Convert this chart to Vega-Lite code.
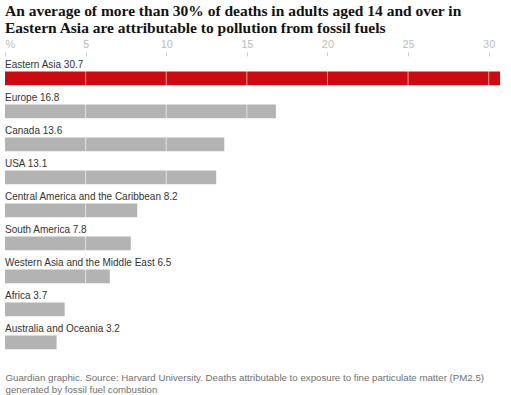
{
  "$schema": "https://vega.github.io/schema/vega-lite/v6.json",
  "width": 495,
  "height": {"step": 33},
  "padding": {"left": 4, "top": 4, "right": 12, "bottom": 0},
  "background": "white",
  "title": {
    "text": ["An average of more than 30% of deaths in adults aged 14 and over in", "Eastern Asia are attributable to pollution from fossil fuels"],
    "anchor": "start",
    "frame": "group",
    "font": "Liberation Serif",
    "fontSize": 15.5,
    "fontWeight": "bold",
    "color": "#121212",
    "lineHeight": 17,
    "offset": 2
  },
  "datasets": {
    "regions": [
      {"region": "Eastern Asia", "value": 30.7},
      {"region": "Europe", "value": 16.8},
      {"region": "Canada", "value": 13.6},
      {"region": "USA", "value": 13.1},
      {"region": "Central America and the Caribbean", "value": 8.2},
      {"region": "South America", "value": 7.8},
      {"region": "Western Asia and the Middle East", "value": 6.5},
      {"region": "Africa", "value": 3.7},
      {"region": "Australia and Oceania", "value": 3.2}
    ],
    "gridlines": [
      {"tick": 5}, {"tick": 10}, {"tick": 15}, {"tick": 20}, {"tick": 25}, {"tick": 30}
    ]
  },
  "layer": [
    {
      "data": {"name": "regions"},
      "mark": {"type": "bar"},
      "encoding": {
        "y": {
          "field": "region",
          "type": "nominal",
          "sort": null,
          "axis": null,
          "scale": {"paddingInner": 0.58, "paddingOuter": 0.47}
        },
        "x": {
          "field": "value",
          "type": "quantitative",
          "scale": {"domain": [0, 30.7], "nice": false},
          "axis": {
            "orient": "top",
            "title": null,
            "values": [0, 5, 10, 15, 20, 25, 30],
            "labelExpr": "datum.value === 0 ? '%' : datum.label",
            "labelFlush": true,
            "labelFont": "Liberation Sans",
            "labelFontSize": 11,
            "labelColor": "#bdbdbd",
            "labelPadding": 2,
            "tickColor": "#cccccc",
            "tickSize": 4,
            "domain": false,
            "grid": false
          }
        },
        "color": {
          "condition": {"test": "datum.region === 'Eastern Asia'", "value": "#cc0a11"},
          "value": "#b3b3b3"
        }
      }
    },
    {
      "data": {"name": "gridlines"},
      "mark": {"type": "rule", "color": "#ffffff", "strokeWidth": 1, "opacity": 0.6},
      "encoding": {
        "x": {"field": "tick", "type": "quantitative", "axis": null}
      }
    },
    {
      "data": {"name": "regions"},
      "transform": [{"calculate": "datum.region + ' ' + datum.value", "as": "label"}],
      "mark": {
        "type": "text",
        "align": "left",
        "baseline": "alphabetic",
        "dy": -10,
        "font": "Liberation Sans",
        "fontSize": 10,
        "color": "#333333"
      },
      "encoding": {
        "y": {"field": "region", "type": "nominal", "sort": null, "axis": null},
        "x": {
          "datum": 0,
          "type": "quantitative",
          "axis": {
            "orient": "bottom",
            "labels": false,
            "ticks": false,
            "domain": false,
            "grid": false,
            "title": ["Guardian graphic. Source: Harvard University. Deaths attributable to exposure to fine particulate matter (PM2.5)", "generated by fossil fuel combustion"],
            "titleAnchor": "start",
            "titleAlign": "left",
            "titleFont": "Liberation Sans",
            "titleFontSize": 9.7,
            "titleFontWeight": "normal",
            "titleColor": "#707070",
            "titlePadding": 8,
            "titleLineHeight": 12
          }
        },
        "text": {"field": "label"}
      }
    }
  ],
  "resolve": {"axis": {"x": "independent"}},
  "config": {"view": {"stroke": null}}
}
